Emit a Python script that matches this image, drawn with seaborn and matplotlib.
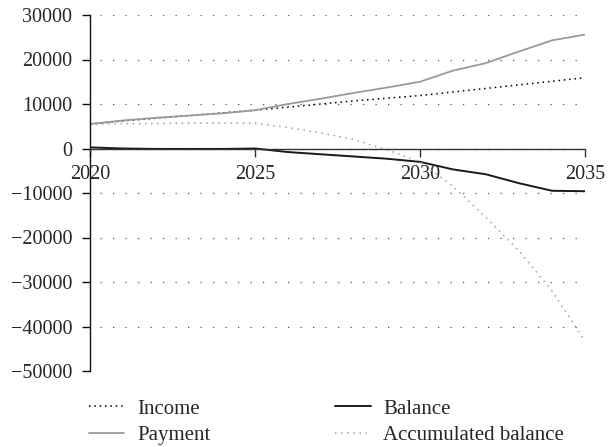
import matplotlib
matplotlib.use("Agg")
import matplotlib.pyplot as plt
import seaborn as sns
import pandas as pd

years = list(range(2020, 2036))
income = [5500, 6200, 6800, 7400, 8000, 8600, 9300, 10000, 10700, 11300, 11900, 12700, 13500, 14300, 15100, 15900]
payment = [5500, 6300, 6900, 7400, 7900, 8600, 10000, 11200, 12500, 13700, 15000, 17500, 19200, 21800, 24300, 25600]
balance = [250, 0, -100, -100, -100, 0, -800, -1300, -1800, -2300, -3000, -4700, -5800, -7800, -9500, -9600]
accumulated = [5500, 5600, 5600, 5700, 5700, 5700, 4700, 3500, 2000, -300, -3000, -8500, -15500, -23000, -32000, -43300]
y_ticks = [30000, 20000, 10000, 0, -10000, -20000, -30000, -40000, -50000]
x_ticks = [2020, 2025, 2030, 2035]

df = pd.DataFrame({"Year": years, "Income": income, "Payment": payment,
                   "Balance": balance, "Accumulated balance": accumulated})

sns.set_theme(style="white")
plt.rcParams['font.family'] = ['Liberation Serif', 'DejaVu Serif']
plt.rcParams['font.size'] = 14

fig = plt.figure(figsize=(6.08, 4.47), dpi=100)
ax = fig.add_axes([90/608, 1-371/447, (585-90)/608, (371-15)/447])

styles = {
    "Income": dict(color="black", linestyle=(0, (1, 2.5)), linewidth=1.1),
    "Payment": dict(color="#9a9a9a", linestyle="-", linewidth=1.3),
    "Balance": dict(color="#1a1a1a", linestyle="-", linewidth=1.4),
    "Accumulated balance": dict(color="#a0a0a0", linestyle=(0, (1, 3)), linewidth=1.1),
}
for name, st in styles.items():
    sns.lineplot(data=df, x="Year", y=name, ax=ax, label=name, **st)

ax.set_xlim(2020, 2035)
ax.set_ylim(-50000, 30000)
ax.set_yticks(y_ticks)
ax.set_xticks(x_ticks)
ax.set_xlabel("")
ax.set_ylabel("")

for yv in y_ticks:
    ax.axhline(yv, xmin=0.02, xmax=1, color="#555555", linestyle=(0, (1, 9)), linewidth=0.9, zorder=0)

ax.spines['top'].set_visible(False)
ax.spines['right'].set_visible(False)
ax.spines['bottom'].set_position(('data', 0))
ax.spines['bottom'].set_color("#333333")
ax.spines['left'].set_color("#111111")
ax.spines['bottom'].set_linewidth(1.0)
ax.spines['left'].set_linewidth(1.0)
ax.tick_params(axis='y', direction='out', length=5.8, width=1.0, color="#111111", left=True, labelsize=14.5, pad=7)
ax.tick_params(axis='x', bottom=True, direction='out', length=5.8, width=1.0, color="#333333", labelsize=14.5, pad=6)
ax.set_xticklabels([str(x) for x in x_ticks])

ax.get_legend().remove()
h, l = ax.get_legend_handles_labels()
fig.legend(h, l, loc='upper left', bbox_to_anchor=(89/608, 1-399/447), ncol=2, frameon=False,
           fontsize=15, handlelength=1.7, columnspacing=6.0, labelspacing=0.32, handletextpad=0.6,
           borderaxespad=0, borderpad=0)

fig.savefig("out.png", dpi=100)
